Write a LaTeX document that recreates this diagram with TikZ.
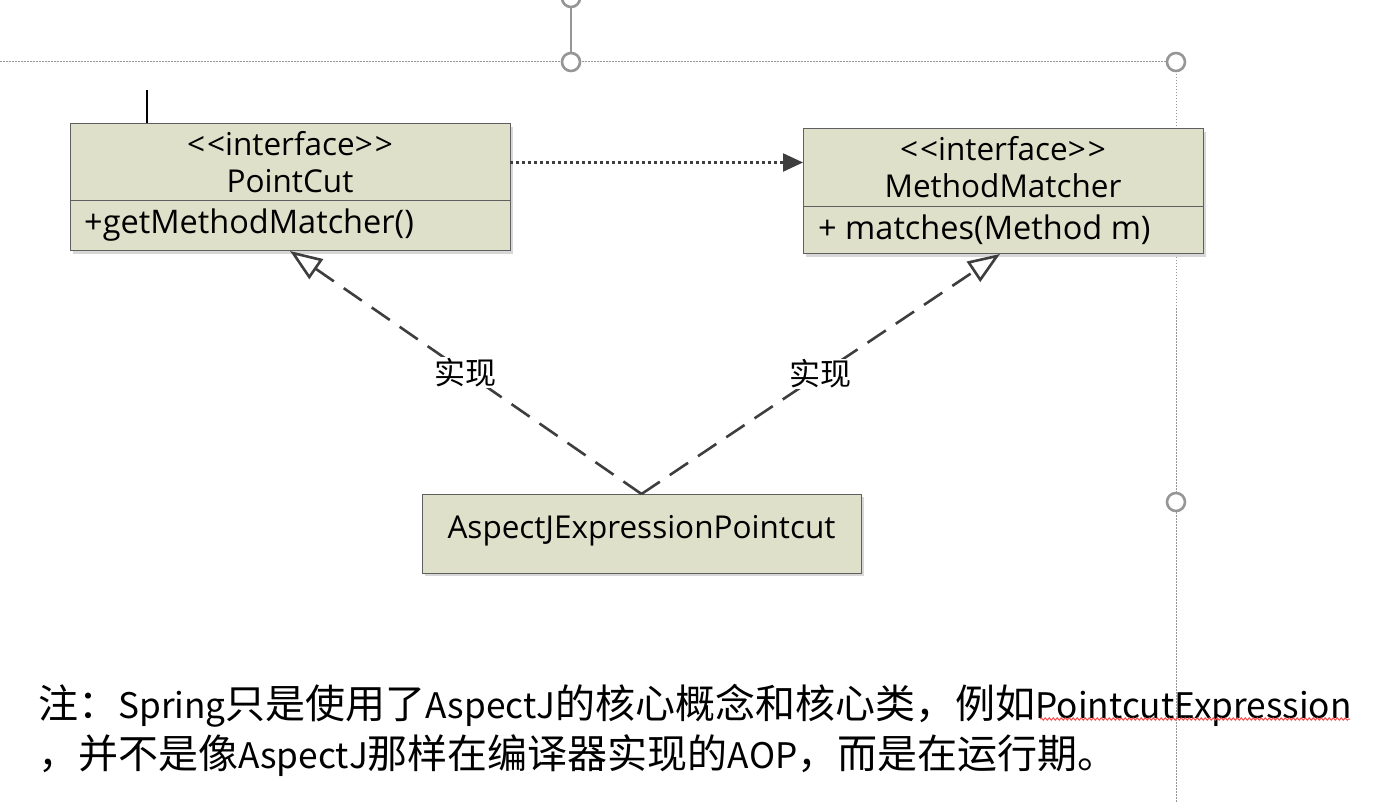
\documentclass[tikz,border=0pt]{standalone}
\usepackage{fontspec}
\setmainfont{Open Sans}
\newfontfamily\cjk{Noto Sans CJK SC}
\newfontfamily\lat{Noto Sans CJK SC}[Scale=0.88]
\usetikzlibrary{arrows.meta,decorations.pathmorphing}
\definecolor{boxfill}{RGB}{222,224,202}
\definecolor{boxline}{RGB}{95,95,95}
\definecolor{lnk}{RGB}{62,62,62}
\definecolor{handle}{RGB}{150,150,150}
\definecolor{shadowc}{RGB}{215,215,215}
\newcommand{\stereo}{<\kern2pt<interface>\kern2pt>}
\newcommand{\lw}[1]{{\lat #1}}
\begin{document}
\begin{tikzpicture}[x=1pt,y=-1pt,
  umlbox/.style={draw=boxline, line width=1pt, fill=boxfill, inner sep=0pt, outer sep=0pt},
  boxtext/.style={font=\fontsize{31.5}{37}\selectfont, text=black, align=center, inner sep=0pt},
  opstext/.style={font=\fontsize{32.5}{34}\selectfont, text=black, anchor=west, inner sep=0pt},
  realize/.style={draw=lnk, line width=2.6pt, dash pattern=on 22pt off 12pt,
     -{Triangle[open, length=32pt, width=24pt, line width=2.6pt, fill=white]}},
  depend/.style={draw=lnk, line width=2.2pt, dash pattern=on 3pt off 3pt,
     -{Triangle[length=20pt, width=18pt]}},
  lbl/.style={font=\cjk\fontsize{31}{33}\selectfont, text=black, inner sep=1pt},
  hnd/.style={draw=handle, line width=2.6pt, fill=white},
  guide/.style={draw=handle, line width=1pt, dash pattern=on 1.5pt off 1.5pt}
]
\useasboundingbox (0,0) rectangle (1374,802);
\fill[white] (0,0) rectangle (1374,802);

% selection frame
\draw[guide] (0,62) -- (1176,62);
\draw[guide] (1176,62) -- (1176,802);
\draw[draw=handle, line width=1.6pt] (571,8) -- (571,53);
\begin{scope}
\clip (540,0) rectangle (600,40);
\draw[draw=handle, line width=2.6pt] (571,-2) circle[radius=9];
\end{scope}
\node[hnd, circle, minimum size=18pt, inner sep=0pt] (h1) at (571,62) {};
\node[hnd, circle, minimum size=18pt, inner sep=0pt] (h2) at (1176,62) {};
\node[hnd, circle, minimum size=18pt, inner sep=0pt] (h3) at (1176,502) {};

% cursor
\draw[black, line width=2pt] (147,90) -- (147,137);

% shadows
\fill[shadowc] (73,127) rectangle (513,254);
\fill[shadowc] (806,132) rectangle (1206,257);
\fill[shadowc] (425,497) rectangle (864,576);

% PointCut
\node[umlbox, minimum width=440pt, minimum height=77pt] (pct) at (290,162.5) {};
\node[umlbox, minimum width=440pt, minimum height=50pt] (pco) at (290,226) {};
\node[boxtext] (pctt) at (290,162) {\stereo\\PointCut};
\node[opstext] (pcot) at (84,225) {+getMethodMatcher()};

% MethodMatcher
\node[umlbox, minimum width=400pt, minimum height=78pt] (mmt) at (1003,168) {};
\node[umlbox, minimum width=400pt, minimum height=47pt] (mmo) at (1003,230.5) {};
\node[boxtext] (mmtt) at (1003,167) {\stereo\\MethodMatcher};
\node[opstext] (mmot) at (818,230) {+ matches(Method m)};

% AspectJExpressionPointcut
\node[umlbox, minimum width=439pt, minimum height=79pt] (asp) at (641.5,533.5) {};
\node[boxtext] (aspt) at (641.5,531) {AspectJExpressionPointcut};

% connectors
\draw[depend] (pct.east) -- (mmt.west |- pct.east);
\draw[realize] (asp.north) -- (pco.south) node[lbl, pos=0.5, fill=white] {实现};
\draw[realize] (asp.north) -- ([xshift=-3pt]mmo.south) node[lbl, pos=0.5, fill=white] {实现};

% note
\node[font=\cjk\fontsize{40}{50}\selectfont, anchor=north west, align=left, inner sep=0pt] (note) at (38,684)
 {注：\lw{Spring}只是使用了\lw{AspectJ}的核心概念和核心类，例如\lw{PointcutExpression}\\，并不是像\lw{AspectJ}那样在编译器实现的\lw{AOP}，而是在运行期。};
\draw[red!70!white, line width=1pt, decorate, decoration={snake, amplitude=1.2pt, segment length=4pt}] (1040,719) -- (1350,719);
\end{tikzpicture}
\end{document}
